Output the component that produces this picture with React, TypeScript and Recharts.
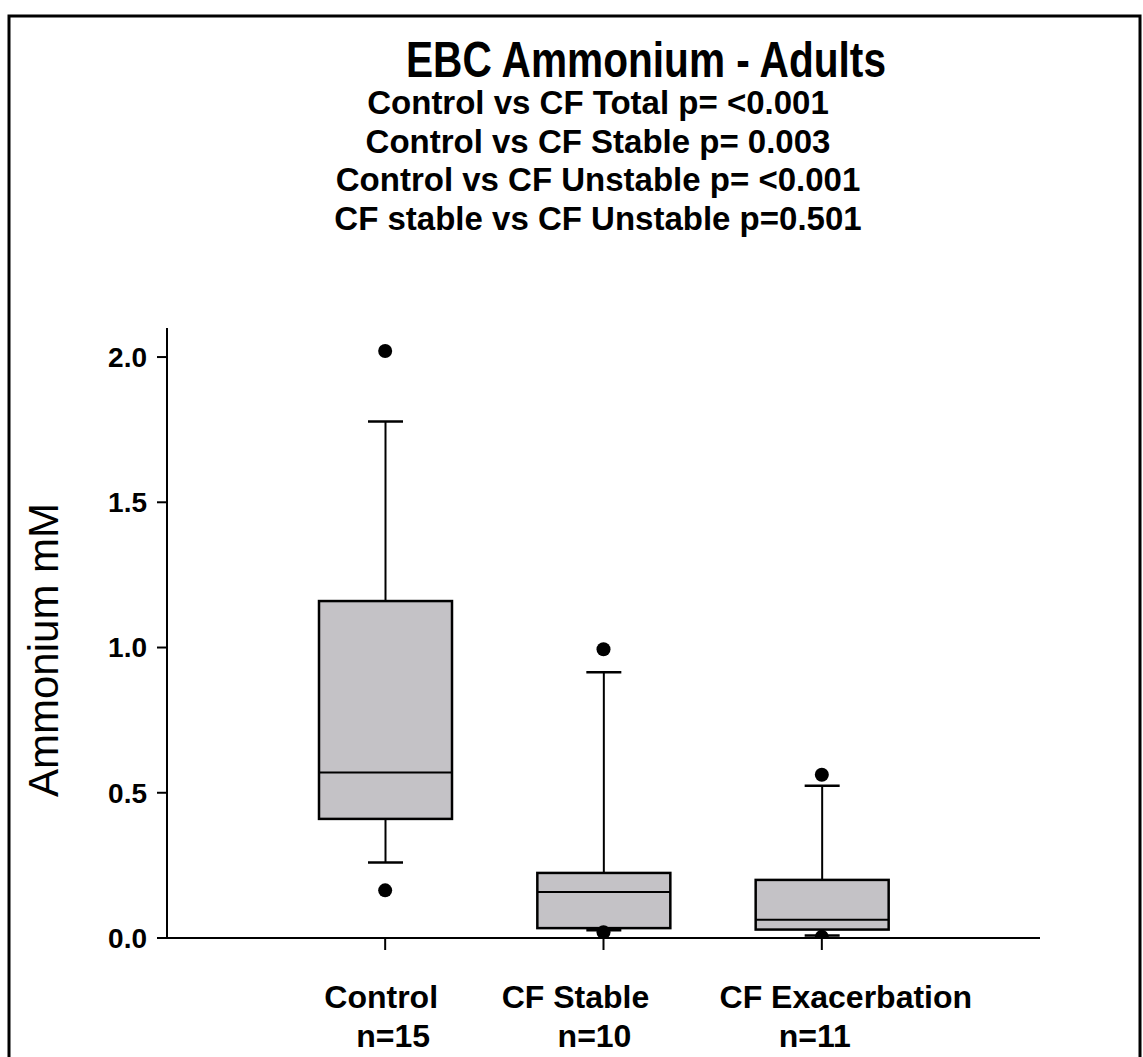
import React from 'react';
import { ComposedChart, Bar, Scatter, XAxis, YAxis } from 'recharts';

const groups = ['Control', 'CF Stable', 'CF Exacerbation'];
const nLabels = ['n=15', 'n=10', 'n=11'];
const whiskerLow = [0.26, 0.027, 0.009];
const q1 = [0.41, 0.034, 0.029];
const median = [0.57, 0.158, 0.063];
const q3 = [1.16, 0.224, 0.2];
const whiskerHigh = [1.778, 0.915, 0.524];
const outlierHigh = [2.021, 0.994, 0.562];
const outlierLow = [0.164, 0.02, 0.004];
const yTicks = [0, 0.5, 1.0, 1.5, 2.0];

const title = 'EBC Ammonium - Adults';
const subtitles = [
  'Control vs CF Total p= <0.001',
  'Control vs CF Stable p= 0.003',
  'Control vs CF Unstable p= <0.001',
  'CF stable vs CF Unstable p=0.501',
];

// label nudges, the original labels are not centred on the ticks
const nameShift = [-4, -28, 24];
const nShift = [8, -9, -7];

const data = groups.map((g, i) => ({
  name: g,
  range: [whiskerLow[i], whiskerHigh[i]],
  q1: q1[i],
  median: median[i],
  q3: q3[i],
  outHigh: outlierHigh[i],
  outLow: outlierLow[i],
}));

const FONT = '"Liberation Sans", Arial, Helvetica, sans-serif';

const BoxShape = (props: any) => {
  const { x, y, width, height, payload } = props;
  const [lo, hi] = payload.range;
  const py = (v: number) => y + (height * (hi - v)) / (hi - lo);
  const cx = x + width / 2;
  const cap = 17.5;
  return (
    <g>
      <line x1={cx} x2={cx} y1={py(hi)} y2={py(payload.q3)} stroke="#000" strokeWidth={2} />
      <line x1={cx} x2={cx} y1={py(payload.q1)} y2={py(lo)} stroke="#000" strokeWidth={2} />
      <rect
        x={x}
        y={py(payload.q3)}
        width={width}
        height={py(payload.q1) - py(payload.q3)}
        fill="#c4c2c6"
        stroke="#000"
        strokeWidth={2.5}
      />
      <line x1={x} x2={x + width} y1={py(payload.median)} y2={py(payload.median)} stroke="#000" strokeWidth={2} />
      <line x1={cx - cap} x2={cx + cap} y1={py(hi)} y2={py(hi)} stroke="#000" strokeWidth={2.5} />
      <line x1={cx - cap} x2={cx + cap} y1={py(lo)} y2={py(lo)} stroke="#000" strokeWidth={2.5} />
    </g>
  );
};

const Dot = (props: any) => <circle cx={props.cx} cy={props.cy} r={7} fill="#000" />;

const XTick = (props: any) => {
  const { x, y, index, payload } = props;
  return (
    <g fontFamily={FONT} fontWeight="bold" fontSize={32} fill="#000">
      <text x={x + nameShift[index]} y={y + 56} textAnchor="middle">
        {payload.value}
      </text>
      <text x={x + nShift[index]} y={y + 95} textAnchor="middle">
        {nLabels[index]}
      </text>
    </g>
  );
};

export default function App() {
  return (
    <div style={{ position: 'absolute', left: 0, top: 0, width: 1143, height: 1057, background: '#fff' }}>
      <ComposedChart
        width={1143}
        height={1057}
        data={data}
        margin={{ top: 328, right: 103, bottom: 0, left: 0 }}
      >
        <XAxis
          dataKey="name"
          type="category"
          padding={{ left: 109, right: 109 }}
          height={119}
          axisLine={{ stroke: '#000', strokeWidth: 2 }}
          tickLine={{ stroke: '#000', strokeWidth: 2 }}
          tickSize={12}
          tick={<XTick />}
          interval={0}
        />
        <XAxis xAxisId="top" orientation="top" dataKey="name" height={0} tick={false} tickLine={false} axisLine={{ stroke: '#000', strokeWidth: 2 }} />
        <YAxis
          type="number"
          domain={[0, 2.1]}
          ticks={yTicks}
          width={167}
          tickFormatter={(v: number) => v.toFixed(1)}
          axisLine={{ stroke: '#000', strokeWidth: 2 }}
          tickLine={{ stroke: '#000', strokeWidth: 2 }}
          tickSize={10}
          tickMargin={10}
          tick={{ fill: '#000', fontSize: 28, fontWeight: 'bold', fontFamily: FONT }}
          allowDataOverflow
        />
        <YAxis yAxisId="right" orientation="right" width={0} domain={[0, 2.1]} tick={false} tickLine={false} axisLine={{ stroke: '#000', strokeWidth: 2 }} />
        <Bar dataKey="range" barSize={133} shape={<BoxShape />} isAnimationActive={false} />
        <Scatter dataKey="outHigh" shape={<Dot />} isAnimationActive={false} />
        <Scatter dataKey="outLow" shape={<Dot />} isAnimationActive={false} />
      </ComposedChart>
      <svg
        width={1143}
        height={1057}
        style={{ position: 'absolute', left: 0, top: 0, pointerEvents: 'none' }}
        fontFamily={FONT}
      >
        <rect x={9} y={16} width={1131} height={1100} fill="none" stroke="#000" strokeWidth={3} />
        <text x={646} y={77} textAnchor="middle" fontSize={50} fontWeight="bold" textLength={480} lengthAdjust="spacingAndGlyphs">
          {title}
        </text>
        {subtitles.map((s, i) => (
          <text key={s} x={598} y={114 + i * 38.5} textAnchor="middle" fontSize={33} fontWeight="bold">
            {s}
          </text>
        ))}
        <text x={58} y={650} transform="rotate(-90 58 650)" textAnchor="middle" fontSize={42}>
          Ammonium mM
        </text>
      </svg>
    </div>
  );
}
